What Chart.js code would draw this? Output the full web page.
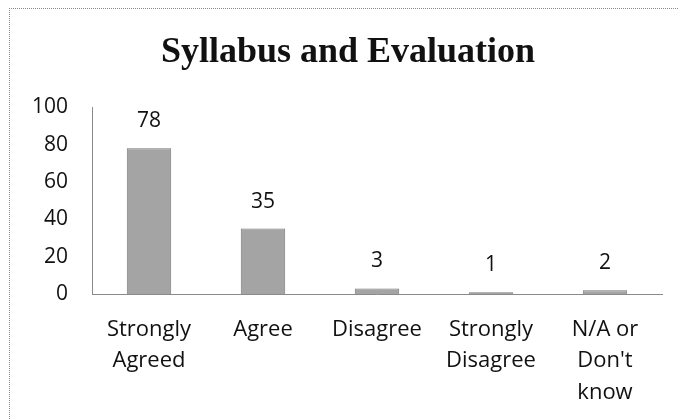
<!DOCTYPE html>
<html>
<head>
<meta charset="utf-8">
<script src="https://cdn.jsdelivr.net/npm/chart.js@4/dist/chart.umd.min.js"></script>
<style>
  html, body { margin: 0; padding: 0; background: #fff; }
  #wrap { position: relative; width: 678px; height: 420px; }
  #frame {
    position: absolute; left: 9px; top: 8px; width: 680px; height: 420px;
    border-left: 1px dotted #8a8a8a; border-top: 1px dotted #8a8a8a;
  }
  canvas { position: absolute; left: 0; top: 0; }
</style>
</head>
<body>
<div id="wrap">
  <div id="frame"></div>
  <canvas id="chart" width="678" height="420"></canvas>
</div>
<script>
// data
const categories = [
  ["Strongly", "Agreed"],
  ["Agree"],
  ["Disagree"],
  ["Strongly", "Disagree"],
  ["N/A or", "Don't", "know"],
];
const counts = [78, 35, 3, 1, 2];
const yTicks = [0, 20, 40, 60, 80, 100];

const labelFont = { family: "'Open Sans', Lato, sans-serif", size: 22 };

// numbers above the bars
const valueLabels = {
  id: "valueLabels",
  afterDatasetsDraw(chart) {
    const ctx = chart.ctx;
    const meta = chart.getDatasetMeta(0);
    ctx.save();
    ctx.font = "21px " + labelFont.family;
    ctx.fillStyle = "#111";
    ctx.textAlign = "center";
    ctx.textBaseline = "middle";
    meta.data.forEach(function (bar, i) {
      ctx.fillText(String(counts[i]), bar.x, bar.y - 27);
    });
    ctx.restore();
  },
};

new Chart(document.getElementById("chart"), {
  type: "bar",
  data: {
    labels: categories,
    datasets: [
      {
        label: "",
        data: counts,
        backgroundColor: "#a4a4a4",
        borderColor: "#787878",
        borderWidth: 1,
        categoryPercentage: 1,
        barPercentage: 0.39,
      },
    ],
  },
  options: {
    responsive: false,
    animation: false,
    layout: { padding: { left: 34, right: 16, top: 0, bottom: 0 } },
    scales: {
      x: {
        grid: { display: false, drawTicks: false },
        border: { display: true, color: "#8a8a8a", width: 1 },
        ticks: {
          color: "#111",
          font: Object.assign({ lineHeight: 1.43 }, labelFont),
          padding: 20,
          maxRotation: 0,
          autoSkip: false,
        },
        afterFit: function (scale) {
          scale.height = 126;
        },
      },
      y: {
        min: 0,
        max: 100,
        afterBuildTicks: function (scale) {
          scale.ticks = yTicks.map(function (v) { return { value: v }; });
        },
        grid: { display: false, drawTicks: false },
        border: { display: true, color: "#8a8a8a", width: 1 },
        ticks: { color: "#111", font: { family: labelFont.family, size: 21 }, padding: 24 },
        afterFit: function (scale) {
          scale.width = 58;
        },
      },
    },
    plugins: {
      legend: { display: false },
      tooltip: { enabled: false },
      title: {
        display: true,
        text: "Syllabus and Evaluation",
        color: "#111",
        font: { family: "'Liberation Serif', 'Times New Roman', serif", size: 36, weight: "bold", lineHeight: 1.2 },
        padding: { top: 31, bottom: 33 },
      },
    },
  },
  plugins: [valueLabels],
});
</script>
</body>
</html>
